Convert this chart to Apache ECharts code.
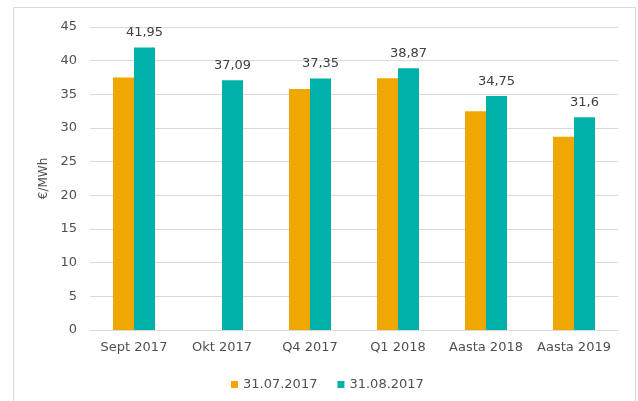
<!DOCTYPE html>
<html>
<head>
<meta charset="utf-8">
<script src="https://cdn.jsdelivr.net/npm/echarts@6/dist/echarts.min.js"></script>
<style>
  html, body { margin: 0; padding: 0; background: #fff; }
  #main { width: 638px; height: 401px; }
</style>
</head>
<body>
<div id="main"></div>
<script>
const categories = ['Sept 2017', 'Okt 2017', 'Q4 2017', 'Q1 2018', 'Aasta 2018', 'Aasta 2019']
const july = [37.5, null, 35.8, 37.4, 32.5, 28.7]
const august = [41.95, 37.09, 37.35, 38.87, 34.75, 31.6]
const yTicks = { min: 0, max: 45, interval: 5 }

const textColor = '#505050'
const font = 'DejaVu Sans'

var myChart = echarts.init(document.getElementById('main'))

myChart.setOption({
  animation: false,
  graphic: [{
    type: 'rect',
    shape: { x: 13.5, y: 7.5, width: 622, height: 400 },
    style: { fill: 'none', stroke: '#d9d9d9', lineWidth: 1 }
  }],
  legend: {
    data: ['31.07.2017', '31.08.2017'],
    left: 226,
    top: 373,
    itemWidth: 7,
    itemHeight: 7,
    itemGap: 20,
    icon: 'rect',
    textStyle: { color: textColor, fontFamily: font, fontSize: 13 }
  },
  grid: { left: 90, right: 20, top: 27, bottom: 71 },
  xAxis: {
    type: 'category',
    data: categories,
    axisLine: { lineStyle: { color: '#d9d9d9' } },
    axisTick: { show: false },
    axisLabel: { interval: 0, color: textColor, fontFamily: font, fontSize: 13, margin: 11 }
  },
  yAxis: {
    type: 'value',
    min: yTicks.min,
    max: yTicks.max,
    interval: yTicks.interval,
    name: '€/MWh',
    nameLocation: 'middle',
    nameGap: 40,
    nameTextStyle: { color: textColor, fontFamily: font, fontSize: 12 },
    axisLabel: { color: textColor, fontFamily: font, fontSize: 13, margin: 13 },
    splitLine: { lineStyle: { color: '#d9d9d9' } }
  },
  series: [{
    name: '31.07.2017',
    type: 'bar',
    data: july,
    barWidth: 21,
    barGap: '0%',
    itemStyle: { color: '#F0A800' }
  }, {
    name: '31.08.2017',
    type: 'bar',
    data: august,
    barWidth: 21,
    itemStyle: { color: '#00B1A9' },
    label: {
      show: true,
      position: 'top',
      distance: 8,
      color: '#404040',
      fontFamily: font,
      fontSize: 13,
      formatter: p => String(p.value).replace('.', ',')
    }
  }]
})
</script>
</body>
</html>
